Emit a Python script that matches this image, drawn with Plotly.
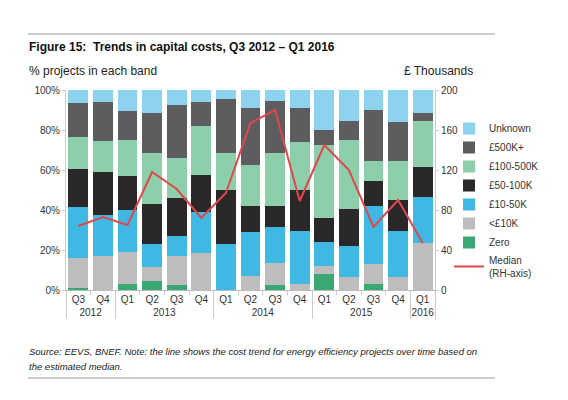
import plotly.graph_objects as go

ZW = "\u200b"  # keeps the first year's quarters distinct so the axis keeps chronological order
years = ["2012", "2012", "2013", "2013", "2013", "2013", "2014", "2014", "2014", "2014",
         "2015", "2015", "2015", "2015", "2016"]
quarters = ["Q3" + ZW, "Q4" + ZW, "Q1", "Q2", "Q3", "Q4", "Q1", "Q2", "Q3", "Q4",
            "Q1", "Q2", "Q3", "Q4", "Q1"]

zero = [0.8, 0, 3, 4.5, 2.5, 0, 0, 0, 2.5, 0, 7.8, 0, 3, 0, 0]
under10k = [15.2, 17.2, 16.2, 7.2, 14.7, 18.5, 0, 7, 10.8, 3, 4.4, 6.3, 10.2, 6.7, 23.3]
k10_50 = [25.7, 20.3, 20.8, 11.3, 10, 20.3, 23, 22.2, 18.4, 26.5, 12, 15.9, 29, 22.6, 23]
k50_100 = [18.8, 21.3, 17.2, 20, 19, 18.5, 26.8, 12.8, 10.3, 20.3, 11.6, 18.3, 12.5, 15.7, 15]
k100_500 = [16.2, 15.5, 18, 25.5, 20, 24.7, 18.5, 20.5, 26.7, 24, 36.5, 34.7, 10, 19.7, 23.4]
k500plus = [16.8, 19.5, 14.5, 20.2, 26.3, 11.8, 27, 28.5, 26, 17.2, 7.7, 9.1, 25.5, 19.1, 3.6]
unknown = [6.5, 6.2, 10.3, 11.3, 7.5, 6.2, 4.7, 9, 5.3, 9, 20, 15.7, 9.8, 16.2, 11.7]
median = [64, 73, 65, 118, 101, 72, 97, 167, 180, 89, 145, 120, 63, 90, 47]

pct_ticks = [0, 20, 40, 60, 80, 100]
pct_labels = ["0%", "20%", "40%", "60%", "80%", "100%"]
rh_ticks = [0, 40, 80, 120, 160, 200]

x = [years, quarters]

series = [
    ("Zero", zero, "#3aa872", 7),
    ("<£10K", under10k, "#bebdbe", 6),
    ("£10-50K", k10_50, "#3fb8e4", 5),
    ("£50-100K", k50_100, "#2a2829", 4),
    ("£100-500K", k100_500, "#8ccfaa", 3),
    ("£500K+", k500plus, "#5d5c5f", 2),
    ("Unknown", unknown, "#8dd3ef", 1),
]

fig = go.Figure()
for name, vals, col, rank in series:
    fig.add_trace(go.Bar(x=x, y=vals, name=name, marker=dict(color=col, line=dict(width=0)),
                         legendrank=rank))
fig.add_trace(go.Scatter(x=x, y=median, name="Median<br>(RH-axis)", mode="lines",
                         line=dict(color="#e0474c", width=2), yaxis="y2", legendrank=8))

OFF = 8  # page body margin
FW, FH = 552, 384
W0, W1, H0, H1 = 66 - OFF, 435 - OFF, 90 - OFF, 290 - OFF


def px(v):
    return (v - OFF - W0) / (W1 - W0)


def py(v):
    return (H1 - (v - OFF)) / (H1 - H0)


fig.update_layout(
    width=FW, height=FH,
    margin=dict(l=W0, r=FW - W1, t=H0, b=FH - H1, autoexpand=False),
    barmode="stack", bargap=0.2,
    plot_bgcolor="white", paper_bgcolor="white",
    font=dict(family="Liberation Sans, Arial, sans-serif", size=10, color="#333"),
    xaxis=dict(type="multicategory",
               showline=True, linecolor="#bbb", linewidth=1,
               ticks="outside", tickson="boundaries", ticklen=4, tickcolor="#ccc",
               showdividers=True, dividercolor="#ccc", dividerwidth=1,
               tickfont=dict(size=10, color="#333"), showgrid=False),
    yaxis=dict(range=[0, 100], tickvals=pct_ticks, ticktext=pct_labels,
               showgrid=False, showline=True, linecolor="#ccc", ticks="outside",
               ticklen=3, tickcolor="#ccc", tickfont=dict(size=10, color="#333"), zeroline=False),
    yaxis2=dict(range=[0, 200], tickvals=rh_ticks, overlaying="y", side="right",
                showgrid=False, showline=True, linecolor="#ccc", ticks="outside", ticklen=3,
                tickcolor="#ccc", tickfont=dict(size=10, color="#333"), zeroline=False),
    legend=dict(x=px(449), y=py(114), xanchor="left", yanchor="top", bgcolor="rgba(0,0,0,0)",
                font=dict(size=10, color="#333"), tracegroupgap=0, itemwidth=30,
                traceorder="normal"),
    showlegend=True,
)

ann = [
    dict(text="<b>Figure 15:  Trends in capital costs, Q3 2012 – Q1 2016</b>", x=px(27), y=py(47),
         font=dict(size=12, color="#111")),
    dict(text="% projects in each band", x=px(27), y=py(71), font=dict(size=12, color="#222")),
    dict(text="£ Thousands", x=px(402), y=py(71), font=dict(size=12, color="#222")),
    dict(text="<i>Source: EEVS, BNEF. Note: the line shows the cost trend for energy efficiency projects over time based on</i>",
         x=px(27), y=py(351), font=dict(size=9.5, color="#222")),
    dict(text="<i>the estimated median.</i>", x=px(27), y=py(366), font=dict(size=9.5, color="#222")),
]
for a in ann:
    fig.add_annotation(xref="paper", yref="paper", xanchor="left", yanchor="middle",
                       showarrow=False, **a)

for yline in (34, 378):
    fig.add_shape(type="line", xref="paper", yref="paper", x0=px(28), x1=px(495),
                  y0=py(yline), y1=py(yline), line=dict(color="#999", width=1))

fig.write_html("out.html")
